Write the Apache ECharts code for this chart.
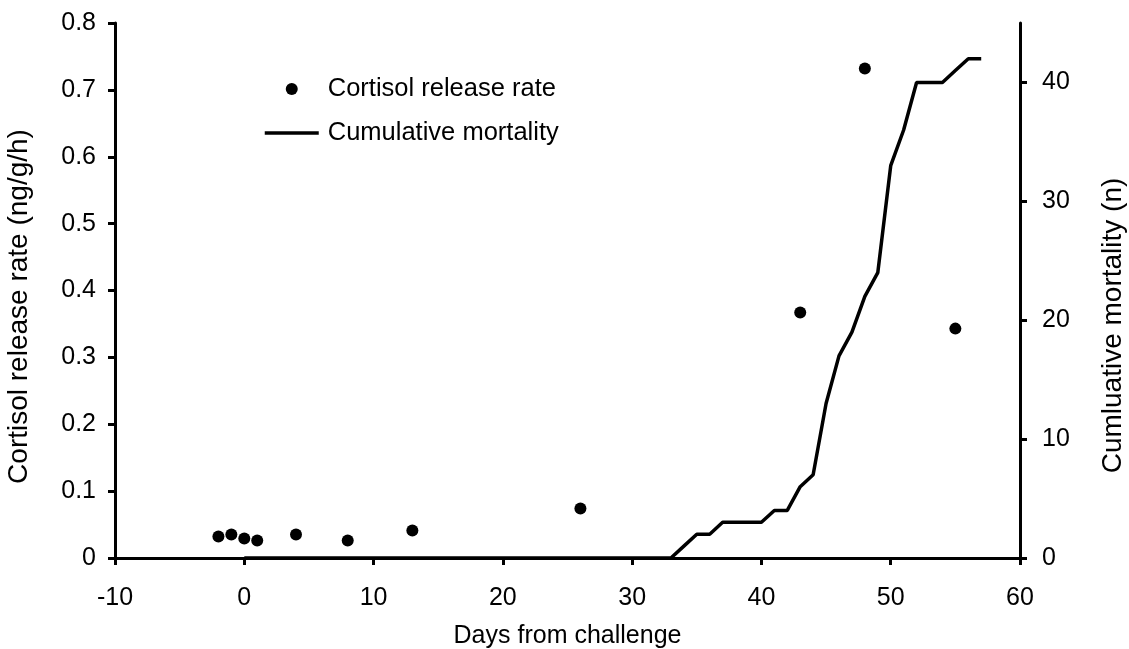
<!DOCTYPE html>
<html>
<head>
<meta charset="utf-8">
<script src="https://cdn.jsdelivr.net/npm/echarts@6/dist/echarts.min.js"></script>
<style>
html,body{margin:0;padding:0;background:#fff;}
#chart{width:1129px;height:649px;}
</style>
</head>
<body>
<div id="chart"></div>
<script>
// Cortisol release rate (ng/g/h) by day from challenge
var cortisolDays = [-2, -1, 0, 1, 4, 8, 13, 26, 43, 48, 55];
var cortisolRate = [0.032, 0.035, 0.029, 0.026, 0.035, 0.026, 0.041, 0.074, 0.367, 0.732, 0.343];

// Cumulative mortality (n) by day
var mortalityDays = [0, 33, 34, 35, 36, 37, 38, 39, 40, 41, 42, 43, 44, 45, 46, 47, 48, 49, 50, 51, 52, 53, 54, 55, 56, 57];
var mortalityCount = [0, 0, 1, 2, 2, 3, 3, 3, 3, 4, 4, 6, 7, 13, 17, 19, 22, 24, 33, 36, 40, 40, 40, 41, 42, 42];

var xTicks = [-10, 0, 10, 20, 30, 40, 50, 60];
var leftTicks = [0, 0.1, 0.2, 0.3, 0.4, 0.5, 0.6, 0.7, 0.8];
var rightTicks = [0, 10, 20, 30, 40];

var FONT = 'Liberation Sans';
var FS = 25;
var TFS = 28;

var scatterData = cortisolDays.map(function (d, i) { return [d, cortisolRate[i]]; });
var lineData = mortalityDays.map(function (d, i) { return [d, mortalityCount[i]]; });

var axisLineStyle = { color: '#000', width: 3 };
var tickStyle = { color: '#000', width: 3 };

var chart = echarts.init(document.getElementById('chart'), null, { renderer: 'canvas' });
chart.setOption({
  backgroundColor: '#fff',
  animation: false,
  grid: { left: 115, right: 109, top: 23, bottom: 91, containLabel: false, outerBoundsMode: 'none' },
  legend: {
    orient: 'vertical',
    left: 258,
    top: 71,
    itemWidth: 54,
    itemHeight: 12,
    itemGap: 18,
    textStyle: { fontFamily: FONT, fontSize: 25.5, color: '#000', padding: [0, 0, 0, 4] },
    data: [
      { name: 'Cortisol release rate', icon: 'circle' },
      {
        name: 'Cumulative mortality',
        itemStyle: { color: 'rgba(0,0,0,0)', borderWidth: 0, opacity: 0 },
        lineStyle: { color: '#000', width: 3.5 }
      }
    ]
  },
  xAxis: {
    type: 'value',
    min: xTicks[0],
    max: xTicks[xTicks.length - 1],
    interval: 10,
    name: 'Days from challenge',
    nameLocation: 'middle',
    nameGap: 66,
    nameTextStyle: { fontFamily: FONT, fontSize: FS, color: '#000' },
    axisLine: { show: true, onZero: false, lineStyle: axisLineStyle },
    axisTick: { show: true, inside: false, length: 7, lineStyle: tickStyle },
    axisLabel: { fontFamily: FONT, fontSize: FS, color: '#000', margin: 28 },
    splitLine: { show: false }
  },
  yAxis: [
    {
      type: 'value',
      position: 'left',
      min: leftTicks[0],
      max: leftTicks[leftTicks.length - 1],
      interval: 0.1,
      name: 'Cortisol release rate (ng/g/h)',
      nameLocation: 'middle',
      nameRotate: 90,
      nameGap: 82,
      nameTextStyle: { fontFamily: FONT, fontSize: TFS, color: '#000', padding: [0, 32, 0, 0] },
      axisLine: { show: true, onZero: false, lineStyle: axisLineStyle },
      axisTick: { show: true, inside: false, length: 7, lineStyle: tickStyle },
      axisLabel: { fontFamily: FONT, fontSize: FS, color: '#000', margin: 19 },
      splitLine: { show: false }
    },
    {
      type: 'value',
      position: 'right',
      min: 0,
      max: 45,
      interval: 10,
      name: 'Cumluative mortality (n)',
      nameLocation: 'middle',
      nameRotate: 90,
      nameGap: 79,
      nameTextStyle: { fontFamily: FONT, fontSize: TFS, color: '#000', padding: [0, 70, 0, 0] },
      axisLine: { show: true, onZero: false, lineStyle: axisLineStyle },
      axisTick: { show: true, inside: false, length: 7, lineStyle: tickStyle, customValues: rightTicks },
      axisLabel: { fontFamily: FONT, fontSize: FS, color: '#000', margin: 22, customValues: rightTicks },
      splitLine: { show: false }
    }
  ],
  series: [
    {
      name: 'Cumulative mortality',
      type: 'line',
      yAxisIndex: 1,
      data: lineData,
      symbol: 'none',
      lineStyle: { color: '#000', width: 3.5 },
      itemStyle: { color: '#000' },
      z: 2
    },
    {
      name: 'Cortisol release rate',
      type: 'scatter',
      yAxisIndex: 0,
      data: scatterData,
      symbol: 'circle',
      symbolSize: 12,
      itemStyle: { color: '#000', opacity: 1 },
      z: 3
    }
  ]
});
</script>
</body>
</html>
